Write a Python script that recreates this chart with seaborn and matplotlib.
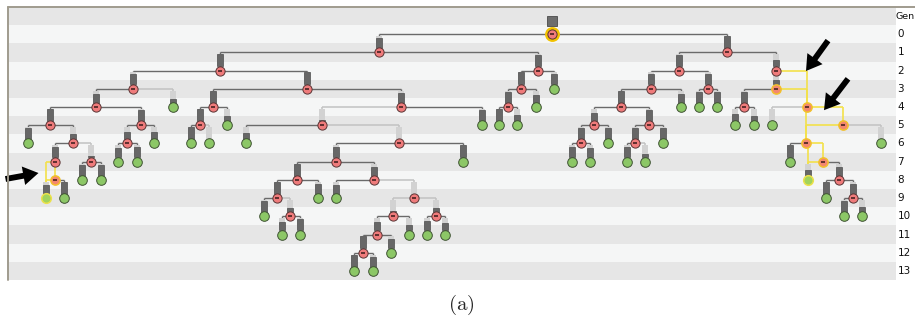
import pandas as pd
import seaborn as sns
import matplotlib.pyplot as plt
from matplotlib.patches import Rectangle

sns.set_theme(style="white")
plt.rcParams['font.family'] = ['DejaVu Sans']
plt.rcParams['mathtext.fontset'] = 'cm'

# genealogy tree: x position (px), generation row,
# node kind (i = internal, l = leaf), darkness of the bar above the node,
# and parent(s) separated by commas
names = ['A', 'B', 'C', 'D', 'E', 'F', 'G',
         'H', 'J', 'K', 'L1', 'M', 'N', 'O',
         'H1', 'L2', 'J1', 'J2', 'K1', 'L3', 'M1', 'L4', 'L5', 'L6', 'O1', 'P',
         'H2', 'H3', 'J3', 'L7', 'J4', 'L8', 'L9', 'L10', 'M2', 'M3', 'L11', 'L12', 'L13', 'Q',
         'L14', 'H4', 'H5', 'L15', 'L16', 'L17', 'L18', 'J5', 'M4', 'L19', 'M5', 'L20', 'R', 'L21',
         'H6', 'H7', 'L22', 'L23', 'J6', 'L24', 'L25', 'L26', 'L27', 'L28', 'L29', 'S',
         'U', 'L30', 'L31', 'J7', 'J8', 'T', 'S1',
         'V', 'L32', 'J9', 'L33', 'L34', 'J10', 'L35', 'S2',
         'L36', 'J11', 'J12', 'J13', 'L37', 'L38',
         'L39', 'L40', 'J14', 'L41', 'L42', 'L43',
         'J15', 'L44',
         'L45', 'L46']
node_x = [552, 379, 727, 220, 538, 679, 776,
          133, 307, 521, 554, 651, 708, 776,
          96, 173, 213, 401, 508, 536, 621, 681, 699, 717, 744, 807,
          50, 141, 200, 227, 322, 482, 499, 517, 594, 649, 735, 754, 772, 843,
          28, 73, 127, 154, 191, 209, 246, 399, 581, 608, 635, 663, 806, 881,
          55, 91, 118, 137, 336, 463, 572, 590, 627, 645, 790, 823,
          55, 82, 101, 297, 374, 808, 839,
          46, 64, 277, 318, 336, 414, 826, 853,
          264, 290, 393, 436, 844, 862,
          282, 300, 377, 409, 427, 445,
          363, 391,
          354, 373]
node_gen = [0, 1, 1, 2, 2, 2, 2,
            3, 3, 3, 3, 3, 3, 3,
            4, 4, 4, 4, 4, 4, 4, 4, 4, 4, 4, 4,
            5, 5, 5, 5, 5, 5, 5, 5, 5, 5, 5, 5, 5, 5,
            6, 6, 6, 6, 6, 6, 6, 6, 6, 6, 6, 6, 6, 6,
            7, 7, 7, 7, 7, 7, 7, 7, 7, 7, 7, 7,
            8, 8, 8, 8, 8, 8, 8,
            9, 9, 9, 9, 9, 9, 9, 9,
            10, 10, 10, 10, 10, 10,
            11, 11, 11, 11, 11, 11,
            12, 12,
            13, 13]
node_kind = ['i', 'i', 'i', 'i', 'i', 'i', 'i',
             'i', 'i', 'i', 'l', 'i', 'i', 'i',
             'i', 'l', 'i', 'i', 'i', 'l', 'i', 'l', 'l', 'l', 'i', 'i',
             'i', 'i', 'i', 'l', 'i', 'l', 'l', 'l', 'i', 'i', 'l', 'l', 'l', 'i',
             'l', 'i', 'i', 'l', 'l', 'l', 'l', 'i', 'i', 'l', 'i', 'l', 'i', 'l',
             'i', 'i', 'l', 'l', 'i', 'l', 'l', 'l', 'l', 'l', 'l', 'i',
             'i', 'l', 'l', 'i', 'i', 'l', 'i',
             'l', 'l', 'i', 'l', 'l', 'i', 'l', 'i',
             'l', 'i', 'i', 'i', 'l', 'l',
             'l', 'l', 'i', 'l', 'l', 'l',
             'i', 'l',
             'l', 'l']
bar_dark = [0, 0.8, 1.0, 1.0, 0.9, 0.9, 0.5,
            0.9, 1.0, 1.0, 0.9, 0.9, 0.9, 0.4,
            0.75, 0.3, 1.0, 0.8, 0.9, 0.6, 1.0, 0.7, 0.9, 0.9, 0.9, 0,
            1.0, 0.9, 1.0, 0.4, 0.1, 0.9, 1.0, 0.5, 0.7, 0.9, 0.6, 0.4, 0.0, 0,
            0.9, 0.4, 0.6, 0.6, 1.0, 0.0, 0.5, 0.0, 0.9, 0.9, 0.9, 0.9, 0, 0.0,
            0.9, 0.1, 0.8, 0.9, 0.9, 1.0, 0.9, 0.8, 0.9, 0.3, 1.0, 0,
            0, 0.9, 0.9, 1.0, 0.7, 0.5, 0.7,
            0.7, 1.0, 1.0, 0.8, 0.7, 0.0, 1.0, 0.8,
            0.9, 0.3, 0.1, 0.3, 0.9, 0.4,
            0.7, 0.9, 0.7, 0.4, 0.8, 0.6,
            1.0, 0.8,
            1.0, 0.8]
node_parents = ['', 'A', 'A', 'B', 'B', 'C', 'C',
                'D', 'D', 'E', 'E', 'F', 'F', 'G',
                'H', 'H', 'J', 'J', 'K', 'K', 'M', 'M', 'N', 'N', 'O', 'O,G',
                'H1', 'H1', 'J1', 'J1', 'J2', 'J2', 'K1', 'K1', 'M1', 'M1', 'O1', 'O1', 'P', 'P',
                'H2', 'H2', 'H3', 'H3', 'J3', 'J3', 'J4', 'J4', 'M2', 'M2', 'M3', 'M3', 'Q,P', 'Q',
                'H4', 'H4', 'H5', 'H5', 'J5', 'J5', 'M4', 'M4', 'M5', 'M5', 'R', 'R',
                'H6', 'H7', 'H7', 'J6', 'J6', 'S,R', 'S',
                'U,H6', 'U', 'J7', 'J7', 'J8', 'J8', 'S1', 'S1',
                'J9', 'J9', 'J10', 'J10', 'S2', 'S2',
                'J11', 'J11', 'J12', 'J12', 'J13', 'J13',
                'J14', 'J14',
                'J15', 'J15']
highlighted = ['O', 'P', 'Q', 'R', 'S', 'U', 'T', 'V']
row_labels = ['Gen', '0', '1', '2', '3', '4', '5', '6', '7', '8', '9', '10', '11', '12', '13']

nodes = pd.DataFrame({'name': names, 'x': node_x, 'gen': node_gen,
                      'kind': node_kind, 'dark': bar_dark, 'parents': node_parents})
nodes['hl'] = nodes['name'].isin(highlighted)
pos = {n: (x, g) for n, x, g in zip(nodes['name'], nodes['x'], nodes['gen'])}

W, H = 915, 322
fig = plt.figure(figsize=(W / 100, H / 100), dpi=100)
top_px, bot_px, left_px, right_px = 6.9, 280.1, 8, 896
ax = fig.add_axes([left_px / W, 1 - bot_px / H, (right_px - left_px) / W, (bot_px - top_px) / H])
ax.set_xlim(left_px, right_px)
ax.set_ylim(13.5, -1.5)
ax.set_axis_off()

# striped generation rows
for r in range(-1, 14):
    ax.axhspan(r - 0.5, r + 0.5, color='#e6e6e6' if r % 2 else '#f5f6f6', lw=0, zorder=0)

# edges
for _, nd in nodes.iterrows():
    if not nd['parents']:
        continue
    for p in nd['parents'].split(','):
        px, pg = pos[p]
        if nd['hl']:
            col, lw, z = '#f3e14a', 1.2, 3
        elif nd['dark'] < 0.35:
            col, lw, z = '#c2c2c2', 1.1, 1.5
        else:
            col, lw, z = '#6a6a6a', 1.0, 2
        ax.plot([px, nd['x']], [pg, pg], color=col, lw=lw, zorder=z, solid_capstyle='butt')
        ax.plot([nd['x'], nd['x']], [pg, nd['gen']], color=col, lw=lw, zorder=z, solid_capstyle='butt')

# bars above each node
bw = 5.6
for _, nd in nodes.iterrows():
    if not nd['parents']:
        continue
    if nd['hl'] and nd['dark'] == 0:
        continue
    pg = pos[nd['parents'].split(',')[0]][1]
    top, bottom = pg + 0.1, nd['gen'] - 0.24
    span = bottom - top
    ax.add_patch(Rectangle((nd['x'] - bw / 2, top), bw, span, fc='#d2d2d2', ec='none', zorder=3.5))
    if nd['dark'] > 0:
        h = nd['dark'] * span
        ax.add_patch(Rectangle((nd['x'] - bw / 2, bottom - h), bw, h,
                               fc='#676767', ec='#4e4e4e', lw=0.5, zorder=4))

# root box and selection ring
root = nodes[nodes['gen'] == 0].iloc[0]
ax.add_patch(Rectangle((root['x'] - 5.2, -0.99), 10.4, 0.56, fc='#6d6d6d', ec='#4a4a4a', lw=0.6, zorder=4))
ax.scatter([root['x']], [root['gen']], s=115, color='#f2c200', zorder=4.5, lw=0)

inner = nodes[(nodes['kind'] == 'i') & ~nodes['hl']]
inner_hl = nodes[(nodes['kind'] == 'i') & nodes['hl']]
leaf = nodes[(nodes['kind'] == 'l') & ~nodes['hl']]
leaf_hl = nodes[(nodes['kind'] == 'l') & nodes['hl']]

sns.scatterplot(data=inner, x='x', y='gen', color='#ef7b7b', edgecolor='#5a3535',
                linewidth=0.7, s=44, zorder=5, ax=ax, legend=False)
sns.scatterplot(data=inner_hl, x='x', y='gen', color='#f4876f', edgecolor='#f2c02c',
                linewidth=1.1, s=44, zorder=5, ax=ax, legend=False)
sns.scatterplot(data=leaf, x='x', y='gen', color='#8cc766', edgecolor='#3f5233',
                linewidth=0.7, s=48, zorder=5, ax=ax, legend=False)
sns.scatterplot(data=leaf_hl, x='x', y='gen', color='#a2d35c', edgecolor='#ece14a',
                linewidth=1.1, s=48, zorder=5, ax=ax, legend=False)
allin = nodes[nodes['kind'] == 'i']
ax.scatter(allin['x'], allin['gen'], marker='_', s=9, color='#3a1a1a', lw=1.1, zorder=6)
ax.set_xlabel('')
ax.set_ylabel('')

# generation labels on the right
for r, lab in zip(range(-1, 14), row_labels):
    if lab == 'Gen':
        ax.text(895.5, r, lab, ha='left', va='center', fontsize=6.8, color='#111111', clip_on=False)
    else:
        ax.text(897.5, r, lab, ha='left', va='center', fontsize=7.5, color='#111111', clip_on=False)

# arrows
arrow_kw = dict(arrowstyle='simple,head_length=11,head_width=13.5,tail_width=4.2',
                mutation_scale=1, color='black', lw=0, shrinkA=0, shrinkB=0)
for tail, tip in [((828, 0.35), (806, 2.02)),
                  ((848, 2.45), (824, 4.17)),
                  ((5.5, 7.95), (38.5, 7.62))]:
    ax.annotate('', xy=tip, xytext=tail, arrowprops=arrow_kw, zorder=8, annotation_clip=False)

# frame lines
fig.add_artist(plt.Line2D([left_px / W, 1], [1 - top_px / H] * 2, color='#a09b8e', lw=1.4))
fig.add_artist(plt.Line2D([left_px / W] * 2, [1 - top_px / H, 1 - bot_px / H], color='#a09b8e', lw=1.4))

fig.text(461 / W, 1 - 305 / H, r'$\mathrm{(a)}$', ha='center', va='center', fontsize=15)

fig.savefig('out.png', dpi=100)
